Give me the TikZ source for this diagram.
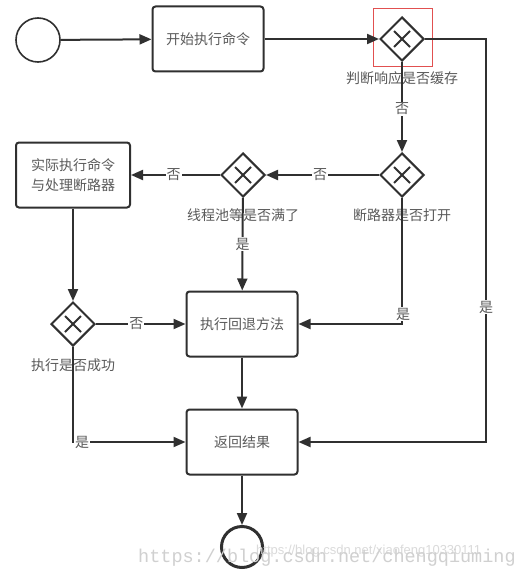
\documentclass[tikz,border=0pt]{standalone}
\usepackage{fontspec}
\setmainfont{Noto Sans CJK SC}
\newfontfamily\wmmono{Liberation Mono}
\newfontfamily\wmsans{Liberation Sans}
\usetikzlibrary{shapes.geometric,arrows.meta}
\definecolor{ln}{HTML}{303030}
\definecolor{tx}{HTML}{5A5A5A}
\definecolor{wm}{HTML}{D0D0D0}
\begin{document}
\begin{tikzpicture}[x=1pt,y=-1pt,
  box/.style={draw=ln, line width=2pt, rounded corners=3pt, minimum width=111pt, minimum height=65pt, inner sep=0pt, align=center, text=tx, font=\fontsize{14}{20}\selectfont},
  gw/.style={diamond, draw=ln, line width=2pt, minimum width=44pt, minimum height=44pt, inner sep=0pt,
    path picture={\draw[ln, line width=2pt] ([shift={(-8pt,-8pt)}]path picture bounding box.center) -- ([shift={(8pt,8pt)}]path picture bounding box.center);
                  \draw[ln, line width=2pt] ([shift={(-8pt,8pt)}]path picture bounding box.center) -- ([shift={(8pt,-8pt)}]path picture bounding box.center);}},
  gwcaption/.style={text=tx, font=\fontsize{14}{16}\selectfont, inner sep=1pt},
  lbl/.style={text=tx, font=\fontsize{14}{16}\selectfont, fill=white, inner sep=1pt},
  arr/.style={draw=ln, line width=2pt, -{Triangle[length=12pt,width=10pt]}}]
\useasboundingbox (0,0) rectangle (529,575);
\fill[white] (0,0) rectangle (529,575);
% nodes
\node[circle, draw=ln, line width=1.6pt, minimum size=44pt, inner sep=0pt] (start) at (38,40) {};
\node[box] (b1) at (208,39) {开始执行命令};
\node[gw] (g1) at (402,39) {};
\node[gwcaption] (c1) at (402,78) {判断响应是否缓存};
\node[gw] (g2) at (402,175) {};
\node[gwcaption] (c2) at (402,215) {断路器是否打开};
\node[gw] (g3) at (243,175) {};
\node[gwcaption] (c3) at (243,215) {线程池等是否满了};
\node[box, minimum width=114pt] (b2) at (73,175) {实际执行命令\\与处理断路器};
\node[gw] (g4) at (73,324) {};
\node[gwcaption] (c4) at (73,365) {执行是否成功};
\node[box] (b3) at (242,324) {执行回退方法};
\node[box] (b4) at (242,442) {返回结果};
\node[circle, draw=ln, line width=3pt, minimum size=41pt, inner sep=0pt] (end) at (242,547) {};
\node[draw={rgb,255:red,225;green,80;blue,80}, line width=1pt, minimum width=59pt, minimum height=58pt, inner sep=0pt] (hl) at (402.5,38) {};
\coordinate (rr) at (486,307);
\coordinate (g2k) at (403,314);
\coordinate (g4k) at (82,442);
% connectors
\draw[arr] (start) -- (b1);
\draw[arr] (b1) -- (g1);
\draw[arr] (g1) -- node[lbl, pos=0.52]{否} (g2);
\draw[arr] (g1.east) -| (rr) |- (b4.east);
\node[lbl] at (rr) {是};
\draw[arr] (g2) -- node[lbl, pos=0.52]{否} (g3);
\draw[arr] (g3) -- node[lbl, pos=0.52]{否} (b2);
\draw[arr] (g3) -- node[lbl, pos=0.5]{是} (b3);
\draw[arr] (g2.south) |- (b3.east);
\node[lbl] at (g2k) {是};
\draw[arr] (b2) -- (g4);
\draw[arr] (g4) -- node[lbl, pos=0.45]{否} (b3);
\draw[arr] (g4.south) |- (b4.west);
\node[lbl] at (g4k) {是};
\draw[arr] (b3) -- (b4);
\draw[arr] (b4) -- (end);
% watermark
\node[text=wm!80, font=\wmsans\fontsize{13}{14}\selectfont, anchor=west, inner sep=0pt] (wm2) at (256,551) {https://blog.csdn.net/xiaofeng10330111};
\node[text=wm, font=\wmmono\fontsize{18.5}{20}\selectfont, anchor=west, inner sep=0pt] (wm1) at (138,558) {https://blog.csdn.net/chengqiuming};
\end{tikzpicture}
\end{document}
